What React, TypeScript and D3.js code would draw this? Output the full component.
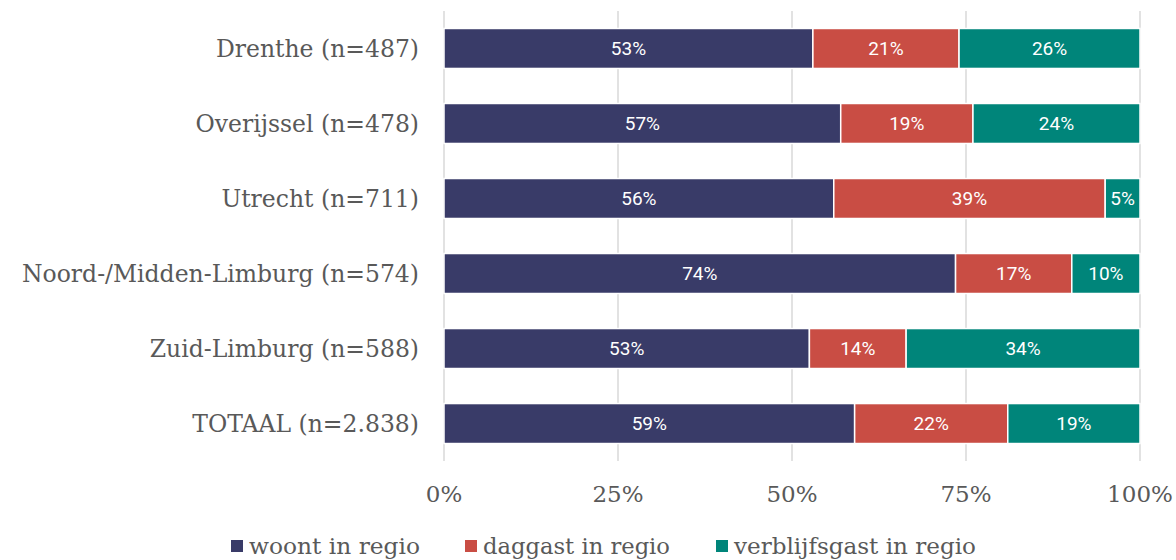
import React from 'react';
import * as d3 from 'd3';

// categorieën en waarden (percentages per regio)
const categories = [
  'Drenthe (n=487)',
  'Overijssel (n=478)',
  'Utrecht (n=711)',
  'Noord-/Midden-Limburg (n=574)',
  'Zuid-Limburg (n=588)',
  'TOTAAL (n=2.838)',
];
const seriesNames = ['woont in regio', 'daggast in regio', 'verblijfsgast in regio'];
const woont = [53, 57, 56, 73.5, 52.5, 59];
const daggast = [21, 19, 39, 16.7, 13.9, 22];
const verblijf = [26, 24, 5, 9.8, 33.6, 19];
const xTicks = [0, 25, 50, 75, 100];

const colors = ['#393b68', '#c94d44', '#00857a'];

const WIDTH = 1176;
const HEIGHT = 560;
const margin = { top: 11, right: 36, bottom: 99, left: 444 };

const serif = '"DejaVu Serif", serif';

const App: React.FC = () => {
  const innerWidth = WIDTH - margin.left - margin.right;
  const innerHeight = HEIGHT - margin.top - margin.bottom;

  const x = d3.scaleLinear().domain([0, 100]).range([0, innerWidth]);
  const y = d3.scaleBand<string>().domain(categories).range([0, innerHeight]).paddingInner(0.467).paddingOuter(0.233);

  const rows = categories.map((c, i) => ({ cat: c, woont: woont[i], daggast: daggast[i], verblijf: verblijf[i] }));
  const stack = d3.stack<any>().keys(['woont', 'daggast', 'verblijf'])(rows);

  // legenda: positie en breedte van de tekst (smal lettertype in het origineel)
  const legendX = [231, 465, 716];
  const legendW = [171, 187, 242];

  return (
    <svg width={WIDTH} height={HEIGHT} style={{ position: 'absolute', left: 0, top: 0, display: 'block' }}>
      <g transform={`translate(${margin.left},${margin.top})`}>
        {/* rasterlijnen */}
        {xTicks.map(t => (
          <line key={t} x1={x(t)} x2={x(t)} y1={0} y2={innerHeight} stroke="#d9d9d9" strokeWidth={1.5} />
        ))}

        {/* gestapelde balken */}
        {stack.map((s, si) => (
          <g key={si} fill={colors[si]}>
            {s.map((d, i) => {
              const x0 = x(d[0]);
              const w = x(d[1]) - x0;
              const yy = y(categories[i])!;
              return (
                <g key={i}>
                  <rect x={x0} y={yy} width={w} height={y.bandwidth()} stroke="#fff" strokeWidth={1.5} />
                  <text
                    x={x0 + w / 2}
                    y={yy + y.bandwidth() / 2}
                    dy="0.36em"
                    textAnchor="middle"
                    fontFamily="Roboto, sans-serif"
                    fontSize={19}
                    fill="#fff"
                  >
                    {Math.round(d[1] - d[0])}%
                  </text>
                </g>
              );
            })}
          </g>
        ))}

        {/* categorielabels */}
        {categories.map(c => (
          <text
            key={c}
            x={-25}
            y={y(c)! + y.bandwidth() / 2}
            dy="0.36em"
            textAnchor="end"
            fontFamily={serif}
            fontSize={23.5}
            fill="#595959"
          >
            {c}
          </text>
        ))}

        {/* x-as labels */}
        {xTicks.map(t => (
          <text
            key={t}
            x={x(t)}
            y={innerHeight + 41}
            textAnchor="middle"
            fontFamily={serif}
            fontSize={23}
            fill="#595959"
          >
            {t}%
          </text>
        ))}
      </g>

      {/* legenda */}
      {seriesNames.map((n, i) => (
        <g key={n} transform={`translate(${legendX[i]},546)`}>
          <rect x={0} y={-6} width={12} height={12} fill={colors[i]} />
          <text
            x={18}
            y={0}
            dy="0.36em"
            fontFamily={serif}
            fontSize={23}
            textLength={legendW[i]}
            lengthAdjust="spacingAndGlyphs"
            fill="#595959"
          >
            {n}
          </text>
        </g>
      ))}
    </svg>
  );
};

export default App;
